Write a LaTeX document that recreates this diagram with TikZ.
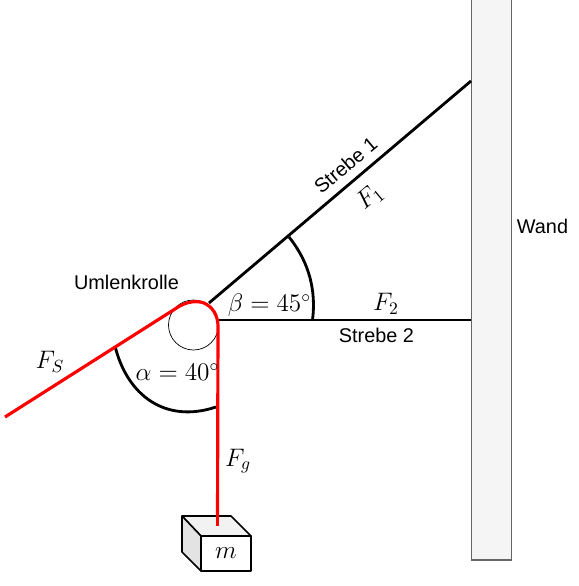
\documentclass[tikz,border=0pt]{standalone}
\usepackage{fontspec}
\setsansfont{Liberation Sans}
\usetikzlibrary{calc}
\begin{document}
\begin{tikzpicture}[x = 0.02cm, y = -0.02cm,
    strebe/.style = {line width = 1.6pt, black},
    seil/.style = {line width = 1.8pt, red},
    kante/.style = {line width = 0.9pt, black, line join = round},
    beschriftung/.style = {font = \sffamily\fontsize{11.3}{13}\selectfont, inner sep = 0pt},
    formel/.style = {font = \fontsize{14.4}{17}\selectfont, inner sep = 0pt}]
    \useasboundingbox (0,0) rectangle (579,586);

    % Wall
    \draw [fill = black!4, draw = black!60, line width = 0.6pt] (471.5,-2) rectangle (511.5,560);
    \node [beschriftung] (wand) at (542.5,226) {Wand};

    % Struts
    \coordinate (S1A) at (209,303);
    \coordinate (S1B) at (471,81);
    \coordinate (S2A) at (219,320);
    \coordinate (S2B) at (471,320);
    \draw [strebe] (S1A) -- (S1B);
    \draw [strebe] (S2A) -- (S2B);

    % Pulley
    \node [draw, circle, minimum size = 50*0.02cm, inner sep = 0pt, line width = 0.4pt] (rolle) at (193.5,325) {};
    \node [beschriftung] (umlenk) at (126.5,282) {Umlenkrolle};

    % Angle arcs
    \draw [strebe] (289,237) .. controls (305,257) and (317,284) .. (312.5,320);
    \draw [strebe] (115,346) .. controls (127,395) and (165,424) .. (216,407);

    % Rope
    \coordinate (seilA) at (5,417);
    \coordinate (seilB) at (217.5,526);
    \draw [seil, line join = round] (seilA) -- (175,309) .. controls (188,300) and (198,301) .. (204,303)
        .. controls (213,307) and (218,316) .. (218,326) -- (seilB);

    % Mass
    \draw [kante, fill = black!5] (182,516) -- (231,516) -- (251,536) -- (201,536) -- cycle;
    \draw [kante, fill = black!11] (182,516) -- (201,536) -- (201,571) -- (182,552) -- cycle;
    \node [draw, kante, fill = white, minimum width = 50*0.02cm, minimum height = 35*0.02cm, inner sep = 0pt, formel] (masse) at (226,553.5) {$m$};
    \draw [seil] (217.5,510) -- (seilB);

    % Labels
    \node [beschriftung, rotate = 40] (strebeA) at (345.5,165) {Strebe 1};
    \node [beschriftung] (strebeB) at (376.5,335) {Strebe 2};
    \node [formel, rotate = 40] (F1) at (370,197) {$F_1$};
    \node [formel] (F2) at (386,304) {$F_2$};
    \node [formel] (FS) at (50,362) {$F_S$};
    \node [formel] (Fg) at (238,461) {$F_g$};
    \node [formel] (alpha) at (177.5,372) {$\alpha = 40^\circ$};
    \node [formel, font = \fontsize{13.6}{16}\selectfont] (beta) at (269.5,305) {$\beta = 45^\circ$};
\end{tikzpicture}
\end{document}
